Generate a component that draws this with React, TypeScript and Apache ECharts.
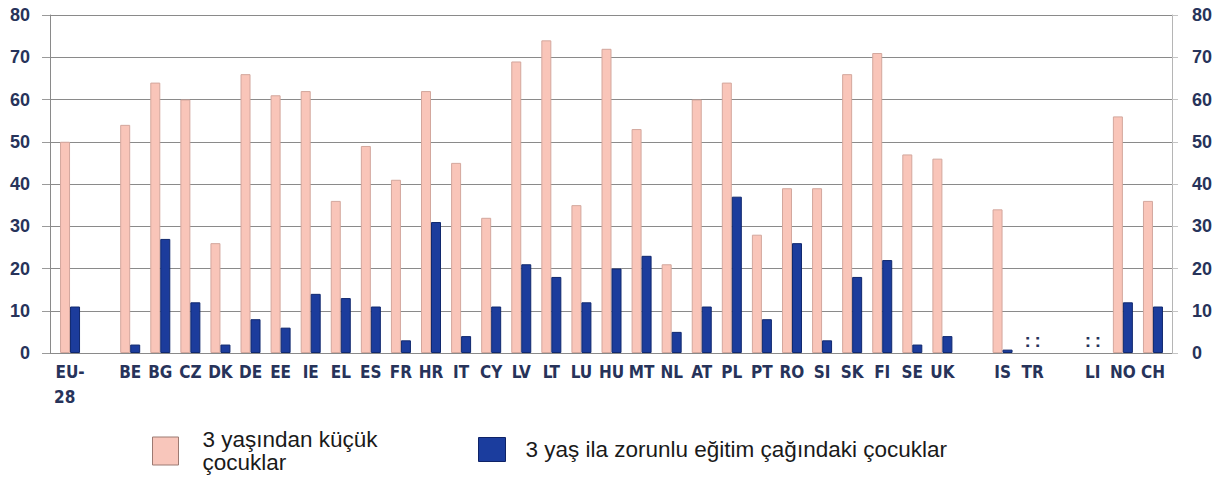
import React, { useEffect, useRef } from "react";
import * as echarts from "echarts";

const categories: string[] = [
  "EU-\n28  ", " ", "BE", "BG", "CZ", "DK", "DE", "EE", "IE", "EL", "ES", "FR", "HR", "IT", "CY",
  "LV", "LT", "LU", "HU", "MT", "NL", "AT", "PL", "PT", "RO", "SI", "SK", "FI", "SE", "UK",
  "  ", "IS", "TR", "   ", "LI", "NO", "CH",
];

const seriesNames = ["3 yaşından küçük çocuklar", "3 yaş ila zorunlu eğitim çağındaki çocuklar"];

// null = no category; "NA" = data not available (shown as ":")
const under3: (number | null | "NA")[] = [
  50, null, 54, 64, 60, 26, 66, 61, 62, 36, 49, 41, 62, 45, 32,
  69, 74, 35, 72, 53, 21, 60, 64, 28, 39, 39, 66, 71, 47, 46,
  null, 34, "NA", null, "NA", 56, 36,
];

const age3ToCompulsory: (number | null | "NA")[] = [
  11, null, 2, 27, 12, 2, 8, 6, 14, 13, 11, 3, 31, 4, 11,
  21, 18, 12, 20, 23, 5, 11, 37, 8, 26, 3, 18, 22, 2, 4,
  null, 0.8, "NA", null, "NA", 12, 11,
];

const yTicks = { min: 0, max: 80, interval: 10 };

const LABEL_COLOR = "#27335a";
const FONT = "'Liberation Sans', Arial, sans-serif";
const NARROW = "'DejaVu Sans Condensed', 'Liberation Sans', Arial, sans-serif";
const PINK = "#f9c5b9";
const BLUE = "#1c3c9c";

function toData(arr: (number | null | "NA")[]) {
  return arr.map((v) => {
    if (v === "NA") {
      return {
        value: 0,
        itemStyle: { color: "transparent", borderColor: "transparent", borderWidth: 0 },
        label: {
          show: true,
          position: "top",
          distance: 3,
          formatter: ":",
          color: LABEL_COLOR,
          fontWeight: "bold",
          fontSize: 19,
          fontFamily: FONT,
        },
      };
    }
    return v === null ? "-" : v;
  });
}

export default function App() {
  const ref = useRef<HTMLDivElement>(null);

  useEffect(() => {
    if (!ref.current) return;
    const chart = echarts.init(ref.current, undefined, { renderer: "svg" });
    const yLabel = {
      color: LABEL_COLOR,
      fontWeight: "bold",
      fontSize: 18,
      fontFamily: FONT,
      margin: 20,
    };
    const top = 15;
    const bottom = 124;
    chart.setOption({
      animation: false,
      backgroundColor: "#ffffff",
      grid: [
        { left: 55, right: 57, top, bottom, containLabel: false },
        { left: 50, right: 53, top, bottom, containLabel: false },
      ],
      xAxis: [
        {
          type: "category",
          gridIndex: 0,
          data: categories,
          axisTick: { show: false },
          axisLine: { show: false },
          axisLabel: {
            interval: 0,
            color: LABEL_COLOR,
            fontWeight: "bold",
            fontSize: 17,
            fontFamily: NARROW,
            margin: 6,
            lineHeight: 25,
          },
        },
        {
          type: "value",
          gridIndex: 1,
          min: 0,
          max: 1,
          axisLine: { show: true, lineStyle: { color: "#8a8a8a", width: 1 } },
          axisTick: { show: false },
          axisLabel: { show: false },
          splitLine: { show: false },
        },
      ],
      yAxis: [
        {
          type: "value",
          gridIndex: 0,
          min: yTicks.min,
          max: yTicks.max,
          interval: yTicks.interval,
          show: false,
        },
        {
          type: "value",
          gridIndex: 1,
          position: "left",
          min: yTicks.min,
          max: yTicks.max,
          interval: yTicks.interval,
          axisLabel: yLabel,
          axisTick: { show: true, length: 8, lineStyle: { color: "#9a9a9a" } },
          axisLine: { show: true, lineStyle: { color: "#8a8a8a" } },
          splitLine: { show: true, lineStyle: { color: "#8a8a8a", width: 1 } },
        },
        {
          type: "value",
          gridIndex: 1,
          position: "right",
          min: yTicks.min,
          max: yTicks.max,
          interval: yTicks.interval,
          axisLabel: yLabel,
          axisTick: { show: true, length: 6, lineStyle: { color: "#c4c4c4" } },
          axisLine: { show: true, lineStyle: { color: "#b5b5b5" } },
          splitLine: { show: false },
        },
      ],
      legend: [
        {
          data: [
            {
              name: seriesNames[0],
              itemStyle: { color: "#f8c6bb", borderColor: "#9c7a72", borderWidth: 1 },
            },
          ],
          left: 152,
          top: 428,
          padding: 0,
          icon: "rect",
          itemWidth: 26,
          itemHeight: 28,
          formatter: () => "3 yaşından küçük\nçocuklar",
          textStyle: {
            fontSize: 22.5,
            fontFamily: FONT,
            color: "#1a1a1a",
            lineHeight: 23,
            padding: [0, 0, 0, 19],
          },
        },
        {
          data: [
            {
              name: seriesNames[1],
              itemStyle: { color: "#1b3d9e", borderColor: "#0e2266", borderWidth: 1 },
            },
          ],
          left: 478,
          top: 437,
          padding: 0,
          icon: "rect",
          itemWidth: 27,
          itemHeight: 24,
          textStyle: {
            fontSize: 22.5,
            fontFamily: FONT,
            color: "#1a1a1a",
            padding: [0, 0, 0, 15],
          },
        },
      ],
      series: [
        {
          name: seriesNames[0],
          type: "bar",
          xAxisIndex: 0,
          yAxisIndex: 0,
          barWidth: 10,
          barGap: "0%",
          data: toData(under3),
          itemStyle: { color: PINK, borderColor: "#d3a79d", borderWidth: 1 },
        },
        {
          name: seriesNames[1],
          type: "bar",
          xAxisIndex: 0,
          yAxisIndex: 0,
          barWidth: 10,
          barGap: "0%",
          data: toData(age3ToCompulsory),
          itemStyle: { color: BLUE, borderColor: "#10286e", borderWidth: 1 },
        },
      ],
    });
    return () => chart.dispose();
  }, []);

  return (
    <div
      ref={ref}
      style={{ position: "absolute", left: 0, top: 0, width: 1225, height: 477 }}
    />
  );
}
